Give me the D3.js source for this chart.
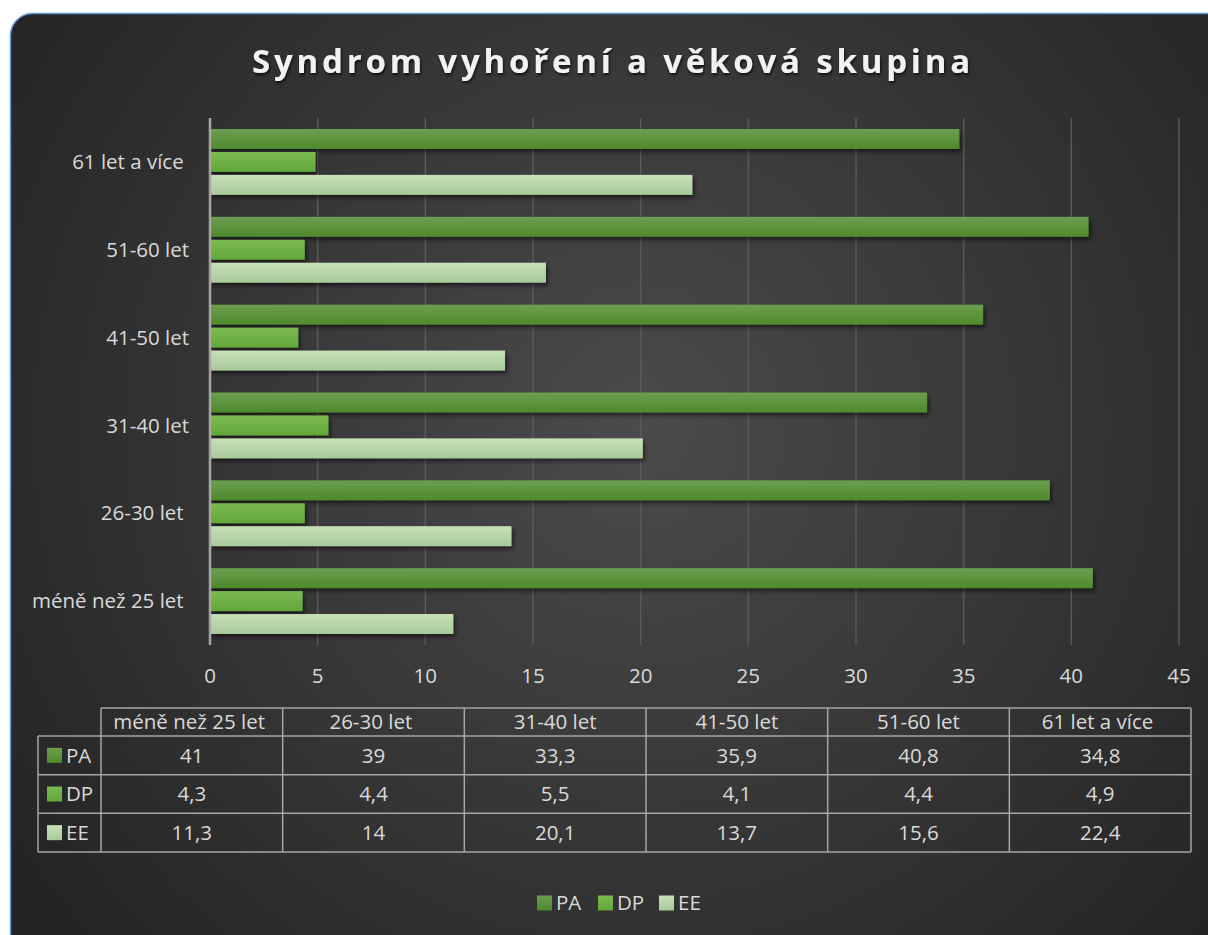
<!DOCTYPE html>
<html>
<head>
<meta charset="utf-8">
<script src="https://cdn.jsdelivr.net/npm/d3@7"></script>
<style>
  html, body { margin: 0; padding: 0; background: #ffffff; }
  svg { display: block; }
  text { font-family: "Open Sans", Lato, sans-serif; white-space: pre; }
</style>
</head>
<body>
<div id="chart"></div>
<script>
// data
var categories = ["méně než 25 let ", "26-30 let ", "31-40 let", "41-50 let", "51-60 let", "61 let a více "];
var seriesNames = ["PA", "DP", "EE"];
var PA = [41, 39, 33.3, 35.9, 40.8, 34.8];
var DP = [4.3, 4.4, 5.5, 4.1, 4.4, 4.9];
var EE = [11.3, 14, 20.1, 13.7, 15.6, 22.4];
var xTicks = [0, 5, 10, 15, 20, 25, 30, 35, 40, 45];

var values = { PA: PA, DP: DP, EE: EE };
var colors = {
  PA: ["#6c9e50", "#4e8a2b"],
  DP: ["#7cba52", "#62a73a"],
  EE: ["#c8e1b8", "#a8c99a"]
};

var width = 1208, height = 935;
var plot = { left: 210, right: 1179, top: 118, bottom: 645 };
var fontSize = 20.5;

var svg = d3.select("#chart")
  .append("svg")
  .attr("width", width)
  .attr("height", height);

var defs = svg.append("defs");

var bg = defs.append("radialGradient")
  .attr("id", "bg")
  .attr("gradientUnits", "userSpaceOnUse")
  .attr("cx", 640).attr("cy", 430).attr("r", 760);
bg.append("stop").attr("offset", "0%").attr("stop-color", "#4b4b4b");
bg.append("stop").attr("offset", "100%").attr("stop-color", "#242424");

seriesNames.forEach(function(s) {
  var g = defs.append("linearGradient")
    .attr("id", "grad-" + s)
    .attr("x1", 0).attr("y1", 0).attr("x2", 0).attr("y2", 1);
  g.append("stop").attr("offset", "0%").attr("stop-color", colors[s][0]);
  g.append("stop").attr("offset", "100%").attr("stop-color", colors[s][1]);
});

var shadow = defs.append("filter").attr("id", "shadow")
  .attr("x", "-5%").attr("y", "-30%").attr("width", "110%").attr("height", "170%");
shadow.append("feDropShadow")
  .attr("dx", 2).attr("dy", 3).attr("stdDeviation", 2)
  .attr("flood-color", "#000").attr("flood-opacity", 0.55);

var tshadow = defs.append("filter").attr("id", "tshadow");
tshadow.append("feDropShadow")
  .attr("dx", 1).attr("dy", 2).attr("stdDeviation", 1.5)
  .attr("flood-color", "#000").attr("flood-opacity", 0.7);

// chart area
svg.append("rect")
  .attr("x", 10.5).attr("y", 13.5)
  .attr("width", 1240).attr("height", 960)
  .attr("rx", 22).attr("ry", 22)
  .attr("fill", "url(#bg)")
  .attr("stroke", "#5b9bd5")
  .attr("stroke-width", 1.5);

// title
svg.append("text")
  .attr("x", 613).attr("y", 73)
  .attr("text-anchor", "middle")
  .attr("fill", "#f2f2f2")
  .attr("font-size", 33)
  .attr("font-weight", "bold")
  .attr("letter-spacing", 3.8)
  .attr("filter", "url(#tshadow)")
  .text("Syndrom vyhoření a věková skupina");

// scales
var x = d3.scaleLinear().domain([0, 45]).range([plot.left, plot.right]);
var y = d3.scaleBand()
  .domain(categories.slice().reverse())
  .range([plot.top, plot.bottom])
  .padding(0);
var ySub = d3.scaleBand()
  .domain(seriesNames)
  .range([11, y.bandwidth() - 11])
  .paddingInner(0.13)
  .paddingOuter(0);

// gridlines
svg.append("g")
  .selectAll("line")
  .data(xTicks.slice(1))
  .enter()
  .append("line")
  .attr("x1", d => x(d)).attr("x2", d => x(d))
  .attr("y1", plot.top).attr("y2", plot.bottom)
  .attr("stroke", "#5a5a5a")
  .attr("stroke-width", 1.5);

// bars
var groups = svg.append("g")
  .selectAll("g")
  .data(categories)
  .enter()
  .append("g")
  .attr("transform", d => "translate(0," + y(d) + ")");

groups.selectAll("rect")
  .data(function(c) {
    var i = categories.indexOf(c);
    return seriesNames.map(s => ({ s: s, v: values[s][i] }));
  })
  .enter()
  .append("rect")
  .attr("x", x(0))
  .attr("y", d => ySub(d.s))
  .attr("width", d => x(d.v) - x(0))
  .attr("height", ySub.bandwidth())
  .attr("fill", d => "url(#grad-" + d.s + ")")
  .attr("filter", "url(#shadow)");

// vertical axis line
svg.append("line")
  .attr("x1", x(0)).attr("x2", x(0))
  .attr("y1", plot.top).attr("y2", plot.bottom)
  .attr("stroke", "#a6a6a6")
  .attr("stroke-width", 2.5);

// category labels
svg.append("g")
  .selectAll("text")
  .data(categories)
  .enter()
  .append("text")
  .attr("x", 189)
  .attr("y", d => y(d) + y.bandwidth() / 2)
  .attr("dy", "0.35em")
  .attr("text-anchor", "end")
  .attr("fill", "#d9d9d9")
  .attr("font-size", fontSize)
  .text(d => d);

// x tick labels
svg.append("g")
  .selectAll("text")
  .data(xTicks)
  .enter()
  .append("text")
  .attr("x", d => x(d))
  .attr("y", 676)
  .attr("dy", "0.35em")
  .attr("text-anchor", "middle")
  .attr("fill", "#d9d9d9")
  .attr("font-size", fontSize)
  .text(d => d);

// data table
var col = d3.scaleBand().domain(categories).range([101, 1191]);
var row = d3.scaleBand().domain(seriesNames).range([736, 852]);
var tableTop = 708, tableLeft = 38;
var fmt = v => String(v).replace(".", ",");
var lineColor = "#a6a6a6";

var table = svg.append("g")
  .attr("stroke", lineColor)
  .attr("stroke-width", 1.5)
  .attr("fill", "none");

// horizontal lines
table.append("line").attr("x1", col.range()[0]).attr("x2", col.range()[1])
  .attr("y1", tableTop).attr("y2", tableTop);
table.selectAll(".hl")
  .data(seriesNames.map(s => row(s)).concat([row.range()[1]]))
  .enter()
  .append("line")
  .attr("x1", tableLeft).attr("x2", col.range()[1])
  .attr("y1", d => d).attr("y2", d => d);
// vertical lines
table.append("line").attr("x1", tableLeft).attr("x2", tableLeft)
  .attr("y1", row.range()[0]).attr("y2", row.range()[1]);
table.selectAll(".vl")
  .data(categories.map(c => col(c)).concat([col.range()[1]]))
  .enter()
  .append("line")
  .attr("x1", d => d).attr("x2", d => d)
  .attr("y1", tableTop).attr("y2", row.range()[1]);

// header texts
svg.append("g")
  .selectAll("text")
  .data(categories)
  .enter()
  .append("text")
  .attr("x", d => col(d) + col.bandwidth() / 2)
  .attr("y", (tableTop + row.range()[0]) / 2)
  .attr("dy", "0.35em")
  .attr("text-anchor", "middle")
  .attr("fill", "#d9d9d9")
  .attr("font-size", fontSize)
  .text(d => d);

// row keys
var keys = svg.append("g")
  .selectAll("g")
  .data(seriesNames)
  .enter()
  .append("g")
  .attr("transform", d => "translate(0," + (row(d) + row.bandwidth() / 2) + ")");
keys.append("rect")
  .attr("x", 47).attr("y", -7.5)
  .attr("width", 15).attr("height", 15)
  .attr("fill", d => "url(#grad-" + d + ")");
keys.append("text")
  .attr("x", 66).attr("dy", "0.35em")
  .attr("fill", "#d9d9d9")
  .attr("font-size", fontSize)
  .text(d => d);

// cell values
seriesNames.forEach(function(s) {
  svg.append("g")
    .selectAll("text")
    .data(categories)
    .enter()
    .append("text")
    .attr("x", d => col(d) + col.bandwidth() / 2)
    .attr("y", row(s) + row.bandwidth() / 2)
    .attr("dy", "0.35em")
    .attr("text-anchor", "middle")
    .attr("fill", "#d9d9d9")
    .attr("font-size", fontSize)
    .text((d, i) => fmt(values[s][i]));
});

// legend
var legendX = [537, 598, 659];
var legend = svg.append("g")
  .selectAll("g")
  .data(seriesNames)
  .enter()
  .append("g")
  .attr("transform", (d, i) => "translate(" + legendX[i] + ",903)");
legend.append("rect")
  .attr("x", 0).attr("y", -7.5)
  .attr("width", 15).attr("height", 15)
  .attr("fill", d => "url(#grad-" + d + ")");
legend.append("text")
  .attr("x", 19).attr("dy", "0.35em")
  .attr("fill", "#d9d9d9")
  .attr("font-size", fontSize)
  .text(d => d);
</script>
</body>
</html>
